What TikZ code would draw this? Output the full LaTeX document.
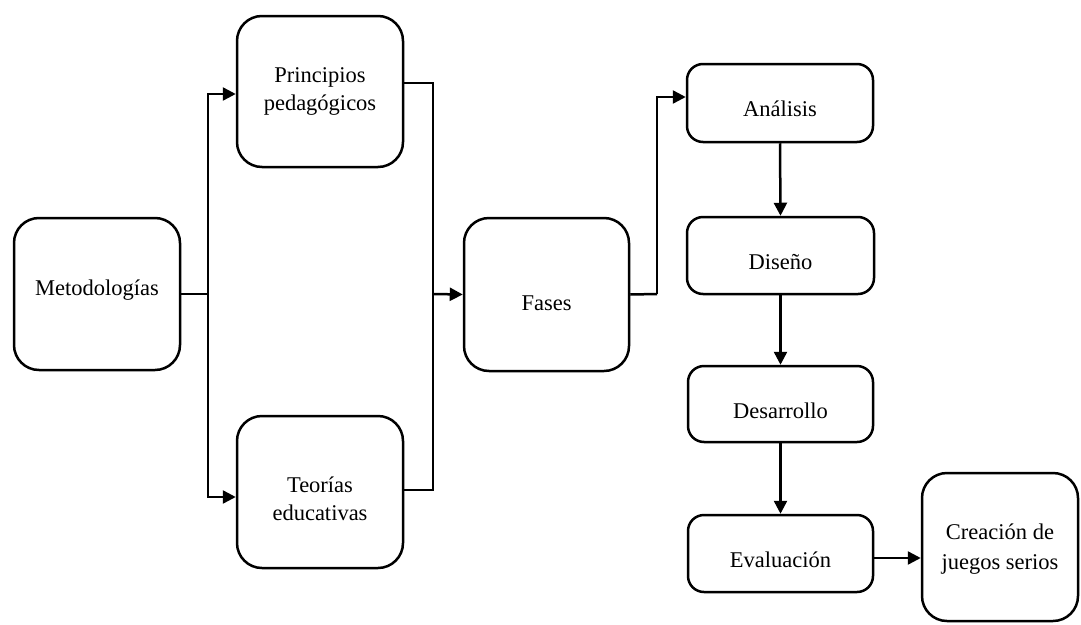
\documentclass[tikz,border=0pt]{standalone}
\usepackage{fontspec}
\setmainfont{Liberation Serif}
\newfontfamily\boxfont{Liberation Serif}
\usetikzlibrary{arrows.meta}
\newcommand{\lowtxt}[2]{\raisebox{-#1}[0pt][0pt]{\begin{tabular}[b]{@{}c@{}}#2\end{tabular}}}
\begin{document}
\begin{tikzpicture}[x=1pt,y=-1pt,
  box/.style={draw=black, line width=2.5pt, rounded corners=#1, align=center,
    font=\boxfont\fontsize{22.5}{28}\selectfont, inner sep=0pt},
  box/.default=25pt,
  conn/.style={draw=black, line width=2.5pt},
  arr/.style={conn, -{Triangle[length=13pt,width=13pt]}}]
\useasboundingbox (0,0) rectangle (1081,624);
\node[box, minimum width=166pt, minimum height=152pt] (met) at (97,294) {\lowtxt{1pt}{Metodologías}};
\node[box, minimum width=166pt, minimum height=151pt] (prin) at (320,91.5) {\lowtxt{18.5pt}{Principios\\pedagógicos}};
\node[box, minimum width=166pt, minimum height=152pt] (teo) at (320,492) {\lowtxt{28pt}{Teorías\\educativas}};
\node[box, minimum width=165pt, minimum height=153pt] (fas) at (546.5,294.5) {\lowtxt{15.5pt}{Fases}};
\node[box=16pt, minimum width=186pt, minimum height=78pt] (ana) at (780,103) {\lowtxt{13pt}{Análisis}};
\node[box=16pt, minimum width=187pt, minimum height=77pt] (dis) at (780.5,255.5) {\lowtxt{13.5pt}{Diseño}};
\node[box=16pt, minimum width=185pt, minimum height=76pt] (des) at (780.5,404) {\lowtxt{14pt}{Desarrollo}};
\node[box=16pt, minimum width=185pt, minimum height=77pt] (eva) at (780.5,553.5) {\lowtxt{13.5pt}{Evaluación}};
\node[box, minimum width=156pt, minimum height=148pt] (cre) at (1000,547) {\lowtxt{22pt}{Creación de\\[2pt]juegos serios}};
\coordinate (j1) at (208,294);
\coordinate (j2) at (433,294);
\coordinate (j3) at (657,294);
\draw[conn] (met.east) -- (j1);
\draw[arr] (j1) |- ([yshift=-2.5pt]prin.west);
\draw[arr] (j1) |- ([yshift=-5pt]teo.west);
\draw[conn] ([yshift=8.5pt]prin.east) -| (j2);
\draw[conn] ([yshift=2pt]teo.east) -| (j2);
\draw[arr] (j2) -- (fas.west);
\draw[conn] (fas.east) -- (j3);
\draw[arr] (j3) |- ([yshift=6pt]ana.west);
\draw[arr] (ana.south) -- (dis.north);
\draw[arr] (dis.south) -- (des.north);
\draw[arr] (des.south) -- (eva.north);
\draw[arr] ([yshift=-4.5pt]eva.east) -- ([yshift=-4.5pt]eva.east -| cre.west);
\end{tikzpicture}
\end{document}
